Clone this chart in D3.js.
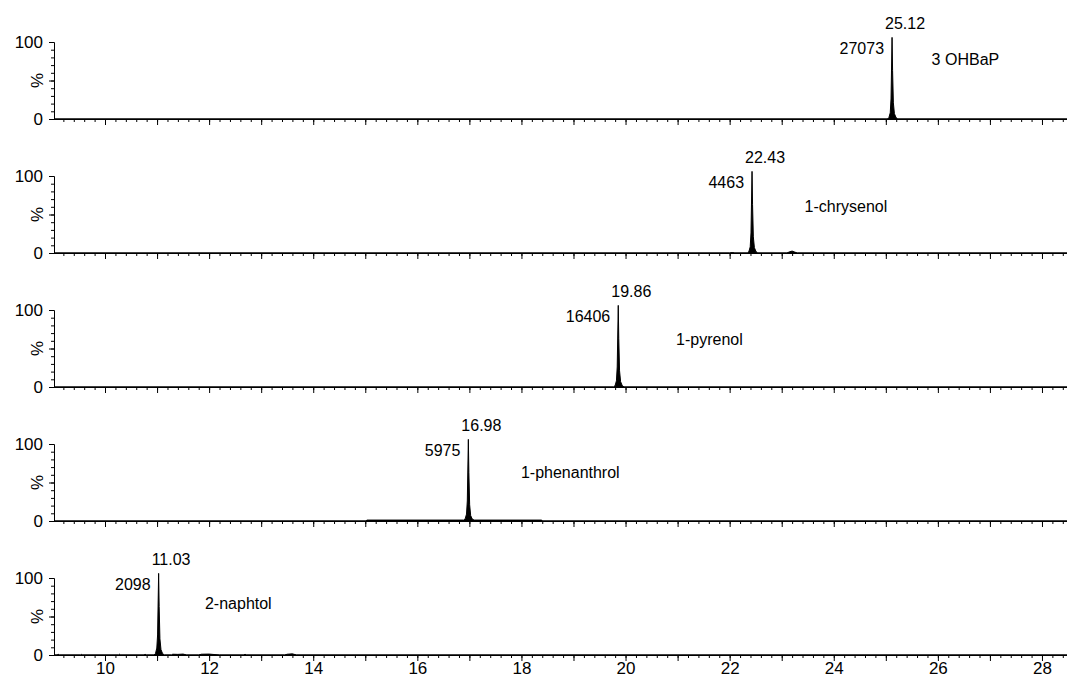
<!DOCTYPE html>
<html>
<head>
<meta charset="utf-8">
<script src="https://cdn.jsdelivr.net/npm/d3@7"></script>
<style>
  body { margin: 0; background: #fff; }
  svg text { font-family: "Liberation Sans", Arial, sans-serif; fill: #000; }
</style>
</head>
<body>
<div id="chart"></div>
<script>
// compounds, top panel first
const compounds = ["3 OHBaP", "1-chrysenol", "1-pyrenol", "1-phenanthrol", "2-naphtol"];
const retentionTimes = [25.12, 22.43, 19.86, 16.98, 11.03];
const peakAreas = [27073, 4463, 16406, 5975, 2098];
const xTickLabels = [10, 12, 14, 16, 18, 20, 22, 24, 26, 28];
const yTickLabels = [0, 100];

// chromatogram traces [time (min), intensity in % of the axis]
// (the apex pokes a little above the 100 tick)
const traceOHBaP = [[9.02, 0], [25.03, 0], [25.06, 2], [25.085, 8], [25.1, 26], [25.112, 74], [25.12, 106],
  [25.13, 63], [25.145, 21], [25.165, 7], [25.195, 2], [25.23, 0], [28.5, 0]];
const traceChrysenol = [[9.02, 0], [22.0, 0], [22.05, 0.6], [22.1, 0], [22.34, 0], [22.37, 2], [22.395, 8],
  [22.41, 26], [22.422, 74], [22.43, 106], [22.44, 63], [22.455, 21], [22.475, 7], [22.505, 2], [22.54, 0],
  [23.1, 0], [23.15, 1.5], [23.2, 2.5], [23.25, 1.2], [23.3, 0], [28.5, 0]];
const tracePyrenol = [[9.02, 0], [19.77, 0], [19.80, 2], [19.825, 8], [19.84, 26], [19.852, 74], [19.86, 106],
  [19.87, 63], [19.885, 21], [19.905, 7], [19.935, 2], [19.97, 0], [28.5, 0]];
const tracePhenanthrol = [[9.02, 0], [15.02, 0], [15.03, 1.2], [16.89, 1.2], [16.92, 3], [16.945, 9],
  [16.96, 26], [16.972, 74], [16.98, 106], [16.99, 63], [17.005, 21], [17.025, 7], [17.055, 2.5], [17.09, 1.2],
  [18.39, 1.2], [18.4, 0], [28.5, 0]];
const traceNaphtol = [[9.02, 0], [9.08, 0], [9.1, 1], [9.12, 0], [9.53, 0], [9.55, 0.8], [9.57, 0],
  [10.26, 0], [10.28, 1], [10.3, 0], [10.75, 0], [10.77, 1], [10.79, 0], [10.94, 0], [10.97, 2], [10.995, 9],
  [11.01, 26], [11.022, 74], [11.03, 106], [11.04, 63], [11.055, 21], [11.075, 7], [11.105, 2], [11.14, 0],
  [11.28, 0], [11.3, 1], [11.4, 0.8], [11.5, 1.2], [11.57, 0], [11.8, 0], [11.85, 1], [12.0, 1.2], [12.2, 0],
  [12.67, 0], [12.69, 1.2], [12.71, 0], [13.45, 0], [13.5, 1], [13.6, 1.5], [13.68, 0], [28.5, 0]];
const traces = [traceOHBaP, traceChrysenol, tracePyrenol, tracePhenanthrol, traceNaphtol];

// where the compound names sit, in (time, %) of each panel
const nameAnchors = [[25.88, 77], [23.44, 60], [20.97, 62], [17.99, 63], [11.92, 67]];

const width = 1067, height = 676;
const panelBase = 119, panelStep = 134, panelHeight = 77;
const left = 54, right = 1068;

const svg = d3.select("#chart").append("svg")
    .attr("width", width)
    .attr("height", height);

const x = d3.scaleLinear().domain([9.02, 28.5]).range([left, right]);

const minorX = d3.range(46, 143).map(i => i / 5);
const majorX = d3.range(10, 29);

compounds.forEach(function(name, i) {
    const base = panelBase + i * panelStep;
    const y = d3.scaleLinear().domain([0, 100]).range([base, base - panelHeight]);
    const g = svg.append("g");

    // trace
    const area = d3.area()
        .x(d => x(d[0]))
        .y0(base)
        .y1(d => y(d[1]));
    g.append("path")
        .datum(traces[i])
        .attr("d", area)
        .attr("fill", "#000")
        .attr("stroke", "#000")
        .attr("stroke-width", 1)
        .attr("stroke-linejoin", "round");

    // x axis: minor ticks, then integer ticks
    g.append("g")
        .attr("transform", "translate(0," + base + ")")
        .call(d3.axisBottom(x).tickValues(minorX).tickSize(3).tickSizeOuter(0).tickFormat(""));
    const xMajor = g.append("g")
        .attr("transform", "translate(0," + base + ")")
        .call(d3.axisBottom(x).tickValues(majorX).tickSize(6).tickSizeOuter(0)
            .tickFormat(d => (i === compounds.length - 1 && xTickLabels.includes(d)) ? d : ""));
    xMajor.selectAll("text")
        .attr("y", 7)
        .style("font-size", "17px");

    // y axis
    g.append("g")
        .attr("transform", "translate(" + left + ",0)")
        .call(d3.axisLeft(y).tickValues(d3.range(0, 101, 10)).tickSize(3).tickSizeOuter(0).tickFormat(""));
    const yMajor = g.append("g")
        .attr("transform", "translate(" + left + ",0)")
        .call(d3.axisLeft(y).tickValues([0, 50, 100]).tickSize(5).tickSizeOuter(0)
            .tickFormat(d => yTickLabels.includes(d) ? d : ""));
    yMajor.selectAll("text")
        .attr("x", -11)
        .style("font-size", "17px");

    svg.selectAll(".domain").attr("stroke", "#000");

    g.append("text")
        .attr("transform", "translate(37," + y(50) + ") rotate(-90)")
        .attr("text-anchor", "middle")
        .attr("dy", "0.35em")
        .style("font-size", "17px")
        .text("%");

    // peak annotations
    const px = x(retentionTimes[i]);
    const top = y(106);
    g.append("text")
        .attr("x", px - 7)
        .attr("y", top - 14)
        .attr("dy", "0.35em")
        .style("font-size", "16px")
        .text(retentionTimes[i].toFixed(2));
    g.append("text")
        .attr("x", px - 8)
        .attr("y", top + 11)
        .attr("dy", "0.35em")
        .attr("text-anchor", "end")
        .style("font-size", "16px")
        .text(peakAreas[i]);
    g.append("text")
        .attr("x", x(nameAnchors[i][0]))
        .attr("y", y(nameAnchors[i][1]))
        .attr("dy", "0.35em")
        .style("font-size", "16px")
        .text(name);
});
</script>
</body>
</html>
